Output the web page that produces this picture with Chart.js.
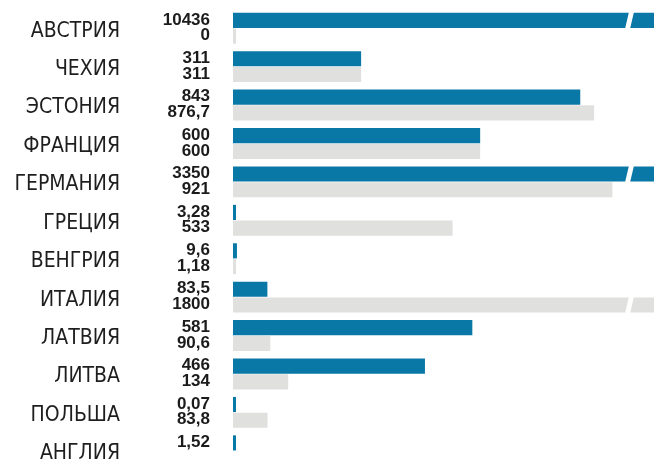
<!DOCTYPE html>
<html>
<head>
<meta charset="utf-8">
<script src="https://cdn.jsdelivr.net/npm/chart.js@4/dist/chart.umd.min.js"></script>
<style>
  html, body { margin: 0; padding: 0; background: #fff; overflow: hidden; }
  canvas { display: block; }
</style>
</head>
<body>
<canvas id="chart" width="654" height="470"></canvas>
<script>
// categories and the two series
const countries = ['АВСТРИЯ', 'ЧЕХИЯ', 'ЭСТОНИЯ', 'ФРАНЦИЯ', 'ГЕРМАНИЯ', 'ГРЕЦИЯ',
                   'ВЕНГРИЯ', 'ИТАЛИЯ', 'ЛАТВИЯ', 'ЛИТВА', 'ПОЛЬША', 'АНГЛИЯ'];
const blueValues = [10436, 311, 843, 600, 3350, 3.28, 9.6, 83.5, 581, 466, 0.07, 1.52];
const grayValues = [0, 311, 876.7, 600, 921, 533, 1.18, 1800, 90.6, 134, 83.8, null];
const axisMax = 1022; // longer bars are cut and get a break mark

const BLUE = '#0a78a6';
const GRAY = '#e0e0df';

function fmt(v) {
    return String(v).replace('.', ',');
}

// value labels left of the bars
const valueLabels = {
    id: 'valueLabels',
    afterDatasetsDraw(chart) {
        const ctx = chart.ctx;
        ctx.save();
        ctx.font = 'bold 17px "Liberation Sans", Arial, sans-serif';
        ctx.fillStyle = '#1b1b1b';
        ctx.textAlign = 'right';
        ctx.textBaseline = 'middle';
        chart.data.datasets.forEach((ds, i) => {
            chart.getDatasetMeta(i).data.forEach((bar, j) => {
                if (ds.data[j] === null) return;
                ctx.fillText(fmt(ds.data[j]), 210, bar.y - 0.5);
            });
        });
        ctx.restore();
    }
};

// white slanted gap on bars that run past the axis
const breakMarks = {
    id: 'breakMarks',
    afterDatasetsDraw(chart) {
        const ctx = chart.ctx;
        const bx = chart.chartArea.right - 29;
        ctx.save();
        ctx.fillStyle = '#fff';
        chart.data.datasets.forEach((ds, i) => {
            chart.getDatasetMeta(i).data.forEach((bar, j) => {
                if (ds.data[j] === null || ds.data[j] <= axisMax) return;
                const top = bar.y - bar.height / 2 - 1;
                const bot = bar.y + bar.height / 2 + 1;
                ctx.beginPath();
                ctx.moveTo(bx, bot);
                ctx.lineTo(bx + 5, bot);
                ctx.lineTo(bx + 9, top);
                ctx.lineTo(bx + 4, top);
                ctx.closePath();
                ctx.fill();
            });
        });
        ctx.restore();
    }
};

new Chart(document.getElementById('chart'), {
    type: 'bar',
    data: {
        labels: countries,
        datasets: [
            { data: blueValues, backgroundColor: BLUE },
            { data: grayValues, backgroundColor: GRAY }
        ]
    },
    options: {
        indexAxis: 'y',
        responsive: false,
        animation: false,
        layout: { padding: { top: 9, right: 0, bottom: 0, left: 0 } },
        categoryPercentage: 0.82,
        barPercentage: 0.96,
        minBarLength: 3,
        plugins: {
            legend: { display: false },
            tooltip: { enabled: false }
        },
        scales: {
            x: { display: false, min: 0, max: axisMax },
            y: {
                grid: { display: false, drawTicks: false },
                border: { display: false },
                afterFit(scale) {
                    scale.width = 233;
                    scale.paddingTop = 0;
                    scale.paddingBottom = 0;
                },
                ticks: {
                    padding: 113,
                    labelOffset: 3,
                    color: '#1e1e1e',
                    font: { family: '"Liberation Sans Narrow", "DejaVu Sans Condensed", sans-serif', size: 21 }
                }
            }
        }
    },
    plugins: [valueLabels, breakMarks]
});
</script>
</body>
</html>
